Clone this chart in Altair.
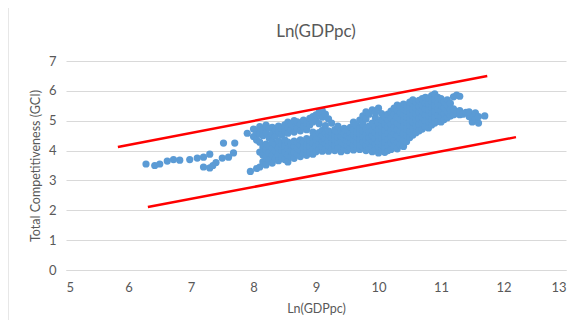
import altair as alt
import pandas as pd

# Scatter points: (Ln GDPpc, GCI)
tail_x = [6.28, 6.42, 6.5, 6.62, 6.72, 6.82, 6.98, 7.1, 7.2, 7.3, 7.2, 7.3, 7.4, 7.5, 7.6, 7.68, 7.52, 7.7, 7.9, 7.35, 7.95]
tail_y = [3.55, 3.5, 3.55, 3.65, 3.7, 3.68, 3.7, 3.75, 3.78, 3.88, 3.45, 3.42, 3.6, 3.75, 3.78, 3.92, 4.25, 4.25, 4.58, 3.5, 3.3]

cols = {
    8.00: [4.47, 4.72],
    8.05: [3.40, 4.35, 4.62],
    8.10: [3.45, 3.95, 4.28, 4.55, 4.80],
    8.15: [3.62, 3.85, 4.12, 4.50, 4.70],
    8.20: [3.52, 3.78, 4.02, 4.22, 4.60, 4.85],
    8.25: [3.68, 3.92, 4.15, 4.42, 4.75],
    8.30: [3.58, 3.85, 4.08, 4.30, 4.55, 4.78],
    8.35: [3.72, 3.98, 4.20, 4.48, 4.68],
    8.40: [3.66, 3.88, 4.10, 4.32, 4.62, 4.82],
    8.45: [3.78, 4.02, 4.24, 4.52, 4.74],
    8.50: [3.70, 3.95, 4.15, 4.36, 4.66, 4.86],
    8.55: [3.62, 3.86, 4.08, 4.28, 4.58, 4.78, 4.95],
    8.60: [3.80, 4.00, 4.22, 4.70, 4.90],
    8.65: [3.74, 3.94, 4.14, 4.32, 4.62, 4.82, 5.00],
    8.70: [3.86, 4.06, 4.26, 4.74, 4.96],
    8.75: [3.80, 4.00, 4.18, 4.36, 4.66, 4.88],
    8.80: [3.90, 4.10, 4.30, 4.80, 5.02],
    8.85: [3.84, 4.04, 4.22, 4.40, 4.70, 4.92],
    8.90: [3.94, 4.14, 4.34, 4.86, 5.08],
    8.95: [3.88, 4.08, 4.26, 4.44, 4.62, 4.96, 5.14],
    9.00: [3.96, 4.16, 4.36, 4.54, 5.04, 5.20],
    9.05: [4.04, 4.22, 4.42, 4.60, 4.90, 5.28],
    9.10: [3.98, 4.14, 4.32, 4.50, 4.68, 5.12, 5.34],
    9.15: [4.06, 4.24, 4.40, 4.58, 4.84, 5.22],
    9.20: [3.98, 4.16, 4.34, 4.52, 4.66, 5.06],
    9.25: [4.08, 4.26, 4.44, 4.60, 4.92],
    9.30: [4.00, 4.18, 4.36, 4.54, 4.70],
    9.35: [4.10, 4.28, 4.46, 4.62, 4.82],
    9.40: [3.96, 4.14, 4.30, 4.48, 4.66],
    9.45: [4.06, 4.22, 4.40, 4.56, 4.74],
    9.50: [4.00, 4.16, 4.34, 4.50, 4.68],
    9.55: [4.08, 4.26, 4.44, 4.60, 4.78],
    9.60: [4.02, 4.18, 4.36, 4.52, 4.70, 4.95],
    9.65: [4.10, 4.28, 4.46, 4.62, 4.84],
    9.70: [4.04, 4.20, 4.38, 4.56, 4.74, 5.02],
    9.75: [4.12, 4.30, 4.48, 4.66, 4.90, 5.16],
    9.80: [4.00, 4.18, 4.36, 4.54, 4.72, 5.06, 5.30],
    9.85: [4.08, 4.26, 4.44, 4.62, 4.82, 5.22],
    9.90: [3.96, 4.14, 4.32, 4.50, 4.68, 4.92, 5.36],
    9.95: [4.04, 4.22, 4.40, 4.60, 4.80, 5.10, 5.28],
    10.00: [3.92, 4.12, 4.30, 4.50, 4.70, 4.94, 5.42],
    10.05: [4.02, 4.20, 4.40, 4.60, 4.84, 5.04, 5.24],
    10.10: [3.94, 4.10, 4.28, 4.48, 4.68, 4.90, 5.14],
    10.15: [4.00, 4.18, 4.38, 4.58, 4.80, 5.02, 5.22],
    10.20: [4.04, 4.26, 4.46, 4.66, 4.88, 5.10, 5.32],
    10.25: [4.12, 4.34, 4.56, 4.76, 4.98, 5.20, 5.42],
    10.30: [4.06, 4.28, 4.50, 4.70, 4.92, 5.14, 5.36, 5.52],
    10.35: [4.18, 4.40, 4.62, 4.84, 5.04, 5.26, 5.46],
    10.40: [4.14, 4.36, 4.58, 4.80, 5.00, 5.20, 5.40, 5.56],
    10.45: [4.30, 4.50, 4.72, 4.94, 5.14, 5.34, 5.52],
    10.50: [4.44, 4.64, 4.86, 5.06, 5.26, 5.46, 5.62],
    10.55: [4.52, 4.74, 4.96, 5.16, 5.36, 5.56, 5.70],
    10.60: [4.60, 4.82, 5.02, 5.22, 5.42, 5.62],
    10.65: [4.66, 4.88, 5.08, 5.28, 5.48, 5.68],
    10.70: [4.72, 4.94, 5.14, 5.34, 5.54, 5.74],
    10.75: [4.80, 5.00, 5.20, 5.40, 5.60, 5.78],
    10.80: [4.76, 4.96, 5.16, 5.36, 5.56, 5.76],
    10.85: [4.86, 5.06, 5.26, 5.46, 5.66, 5.84],
    10.90: [4.92, 5.12, 5.32, 5.52, 5.72, 5.90],
    10.95: [4.98, 5.18, 5.38, 5.58, 5.78],
    11.00: [4.96, 5.14, 5.34, 5.54, 5.74],
    11.05: [5.04, 5.24, 5.44, 5.64],
    11.10: [5.10, 5.30, 5.50, 5.70],
    11.15: [5.16, 5.36, 5.58],
    11.20: [5.20, 5.40, 5.80],
    11.25: [5.24, 5.86],
    11.30: [5.20, 5.34, 5.82],
    11.35: [5.22],
    11.40: [5.28],
    11.45: [5.14, 5.30],
    11.50: [4.96, 5.12],
    11.55: [5.06, 5.26],
    11.60: [4.92, 5.14],
    11.70: [5.16],
}

# Red boundary lines (endpoints)
line_id = ["upper", "upper", "lower", "lower"]
line_x = [5.83, 11.74, 6.31, 12.2]
line_y = [4.12, 6.5, 2.11, 4.45]

x_ticks = [5, 6, 7, 8, 9, 10, 11, 12, 13]
y_ticks = [0, 1, 2, 3, 4, 5, 6, 7]
chart_title = "Ln(GDPpc)"

xs = list(tail_x)
ys = list(tail_y)
for cx, vals in cols.items():
    for v in vals:
        xs.append(cx)
        ys.append(v)
pts = pd.DataFrame({"x": xs, "y": ys})
lines = pd.DataFrame({"id": line_id, "x": line_x, "y": line_y})

FONT = "Lato"
GREY = "#595959"

xenc = alt.X("x:Q", scale=alt.Scale(domain=[5, 13], nice=False),
             axis=alt.Axis(title="Ln(GDPpc)", values=x_ticks, format="d", grid=False,
                           ticks=False, domain=True, domainColor="#D9D9D9",
                           labelPadding=11, titlePadding=8))
yenc = alt.Y("y:Q", scale=alt.Scale(domain=[0, 7], nice=False),
             axis=alt.Axis(title="Total Competitiveness (GCI)", values=y_ticks, format="d",
                           grid=True, gridColor="#D9D9D9", ticks=False, domain=False,
                           labelPadding=10, titlePadding=6))

scatter = alt.Chart(pts).mark_circle(size=52, opacity=1, color="#5B9BD5").encode(x=xenc, y=yenc)
red = alt.Chart(lines).mark_line(color="#FF0000", strokeWidth=2.5).encode(
    x=xenc, y=yenc, detail="id:N")

one = pd.DataFrame({"t": [chart_title]})
title_mark = alt.Chart(one).mark_text(font=FONT, fontSize=17, color=GREY, baseline="middle",
                                      align="center").encode(
    text="t:N", x=alt.value(250), y=alt.value(-29))
frame_left = alt.Chart(one).mark_rule(color="#D0D0D0", strokeWidth=1).encode(
    x=alt.value(-58), y=alt.value(-54), y2=alt.value(300))
frame_top = alt.Chart(one).mark_rule(color="#D0D0D0", strokeWidth=1).encode(
    x=alt.value(-58), x2=alt.value(520), y=alt.value(-54))

chart = alt.layer(scatter, red, frame_left, frame_top, title_mark).properties(
    width=500, height=209,
    autosize=alt.AutoSizeParams(type="none"),
    padding={"left": 58, "top": 53, "right": 2, "bottom": 50},
).configure_view(stroke=None).configure_axis(
    labelFont=FONT, titleFont=FONT, labelColor=GREY, titleColor=GREY,
    labelFontSize=13, titleFontSize=12.5, titleFontWeight="normal",
)

chart.save("out.html", embed_options={"renderer": "svg", "actions": False})
